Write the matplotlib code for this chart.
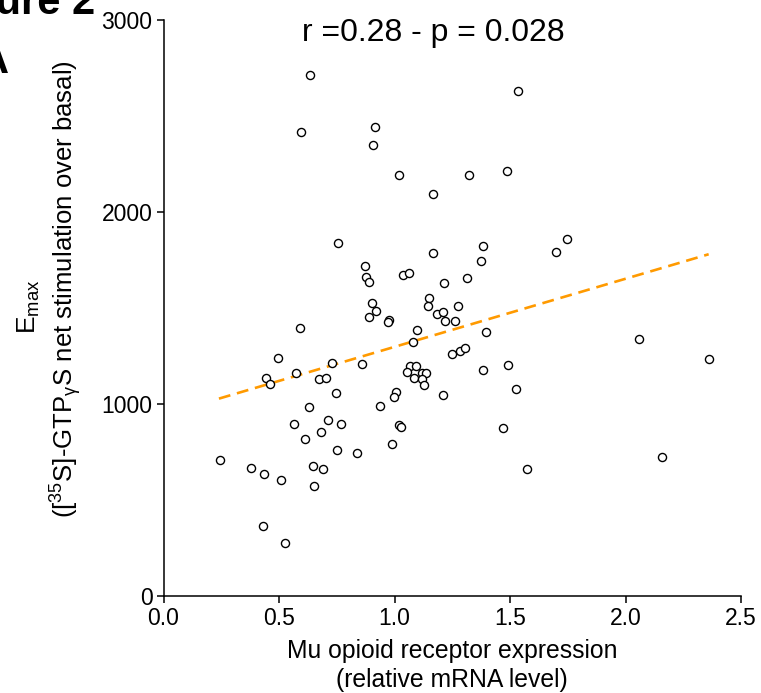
import matplotlib

matplotlib.use("Agg")
import matplotlib.pyplot as plt
import numpy as np

plt.rcParams["font.family"] = ["Liberation Sans", "DejaVu Sans"]
plt.rcParams["mathtext.fontset"] = "custom"
plt.rcParams["mathtext.rm"] = "Liberation Sans"
plt.rcParams["mathtext.it"] = "Liberation Sans:italic"

# MOR expression (relative mRNA) vs Emax, one point per sample
mor_expr = [
    0.634, 0.597, 0.917, 0.906, 1.021, 1.167, 0.755, 1.165, 0.872, 0.877,
    0.888, 1.038, 1.063, 1.213, 0.904, 0.919, 0.890, 0.978, 0.974, 1.149,
    1.146, 1.183, 1.208, 1.274, 1.218, 1.261, 1.535, 1.323, 1.486, 1.382,
    1.373, 1.316, 1.700, 1.748, 1.099, 1.080, 1.249, 1.284, 1.304, 1.397,
    1.383, 1.491, 1.528, 1.471, 1.572, 2.057, 2.360, 2.158, 1.211, 0.591,
    0.497, 0.442, 0.461, 0.574, 0.729, 0.861, 0.675, 0.703, 0.748, 0.629,
    0.939, 1.068, 1.092, 1.055, 1.086, 1.119, 1.136, 1.118, 1.129, 1.008,
    0.998, 0.564, 0.712, 0.767, 0.681, 0.613, 0.751, 0.839, 0.990, 1.021,
    1.028, 0.243, 0.380, 0.435, 0.509, 0.647, 0.689, 0.651, 0.432, 0.527,
]
emax = [
    2711, 2419, 2443, 2348, 2195, 2094, 1837, 1784, 1718, 1664,
    1633, 1673, 1684, 1628, 1527, 1483, 1454, 1440, 1427, 1553,
    1513, 1468, 1477, 1513, 1432, 1430, 2628, 2191, 2212, 1823,
    1746, 1654, 1791, 1857, 1387, 1322, 1260, 1278, 1294, 1377,
    1175, 1202, 1078, 874, 663, 1339, 1233, 722, 1048, 1397,
    1242, 1136, 1104, 1160, 1213, 1206, 1131, 1137, 1057, 982,
    990, 1200, 1196, 1165, 1135, 1163, 1163, 1131, 1101, 1060,
    1037, 896, 918, 898, 855, 820, 759, 745, 793, 889,
    882, 708, 669, 638, 605, 678, 660, 574, 365, 275,
]

# regression line end points as drawn
fit_x = [0.24, 2.36]
fit_y = [1028, 1780]

x_ticks = [0.0, 0.5, 1.0, 1.5, 2.0, 2.5]
y_ticks = [0, 1000, 2000, 3000]

W, H = 761, 693
fig = plt.figure(figsize=(W / 100, H / 100), dpi=100)
ax = fig.add_axes([163.5 / W, 1 - 596 / H, (741 - 163.5) / W, (596 - 20) / H])

ax.plot(fit_x, fit_y, color="#FF9A00", linewidth=1.9, dashes=(4.5, 2.6), zorder=2)
ax.scatter(mor_expr, emax, s=34, facecolors="white", edgecolors="black",
           linewidths=1.0, zorder=3, clip_on=False)

ax.set_xlim(0, 2.5)
ax.set_ylim(0, 3000)
ax.set_xticks(x_ticks)
ax.set_xticklabels([f"{v:.1f}" for v in x_ticks])
ax.set_yticks(y_ticks)
ax.tick_params(labelsize=16.5, length=5, width=1.1, direction="out", pad=3)
ax.spines["top"].set_visible(False)
ax.spines["right"].set_visible(False)
for s in ("left", "bottom"):
    ax.spines[s].set_linewidth(1.1)

# title
fig.text(433 / W, 1 - 33 / H, "r =0.28 - p = 0.028", fontsize=23,
         ha="center", va="center")

# x label (two lines)
fig.text(452 / W, 1 - 651 / H, "Mu opioid receptor expression", fontsize=17.8,
         ha="center", va="center")
fig.text(452 / W, 1 - 680 / H, "(relative mRNA level)", fontsize=17.8,
         ha="center", va="center")

# y label (two lines)
fig.text(29 / W, 1 - 307 / H, r"E$_{\mathrm{max}}$", fontsize=19,
         rotation=90, ha="center", va="center")
fig.text(66 / W, 1 - 289 / H,
         r"([$^{35}$S]-GTP$_{\mathrm{γ}}$S net stimulation over basal)",
         fontsize=18.5, rotation=90, ha="center", va="center")

# cropped panel heading
fig.text(95 / W, 1 - 14 / H, "Figure 2", fontsize=30, fontweight="bold",
         ha="right", va="baseline")
fig.text(9 / W, 1 - 73 / H, "A", fontsize=30, fontweight="bold",
         ha="right", va="baseline")

fig.savefig("out.png", dpi=100)
